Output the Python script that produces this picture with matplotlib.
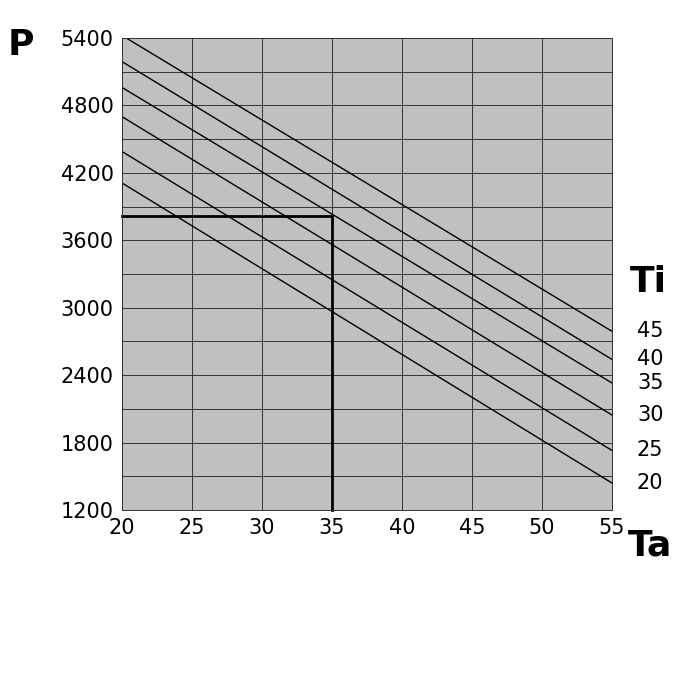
import matplotlib
matplotlib.use("Agg")
import matplotlib.pyplot as plt

ti_labels = ["45", "40", "35", "30", "25", "20"]
ta_start = [20.3, 20, 20, 20, 20, 20]
p_start = [5400, 5190, 4960, 4700, 4390, 4110]
ta_end = [55, 55, 55, 55, 55, 55]
p_end = [2790, 2540, 2330, 2045, 1730, 1440]
sel_ta = 35
sel_p = 3820

fig = plt.figure(figsize=(7, 7), dpi=100)
ax = fig.add_axes([122/700, 1-510/700, 490/700, 472/700])
ax.set_facecolor("#c0c0c0")
ax.set_xlim(20, 55)
ax.set_ylim(1200, 5400)
ax.set_xticks(range(20, 56, 5))
ax.set_yticks(range(1200, 5401, 600))
ax.set_yticks(range(1500, 5400, 600), minor=True)
ax.tick_params(which="both", length=0, labelsize=15, pad=6)
ax.grid(True, which="both", color="#333333", lw=0.7)
ax.set_axisbelow(True)
for s in ax.spines.values():
    s.set_color("#333333"); s.set_linewidth(0.7)

for x0, y0, x1, y1, lab in zip(ta_start, p_start, ta_end, p_end, ti_labels):
    ax.plot([x0, x1], [y0, y1], color="black", lw=1)
    ax.annotate(lab, (x1, y1), xytext=(18, 0), textcoords="offset points",
                fontsize=15, va="center", ha="left", annotation_clip=False)

ax.plot([20, sel_ta, sel_ta], [sel_p, sel_p, 1200], color="black", lw=2, clip_on=False)

fig.text(8/700, 1-45/700, "P", fontsize=26, fontweight="bold", va="center")
fig.text(628/700, 1-545/700, "Ta", fontsize=26, fontweight="bold", va="center")
fig.text(630/700, 1-282/700, "Ti", fontsize=26, fontweight="bold", va="center")
fig.savefig("out.png", dpi=100)
